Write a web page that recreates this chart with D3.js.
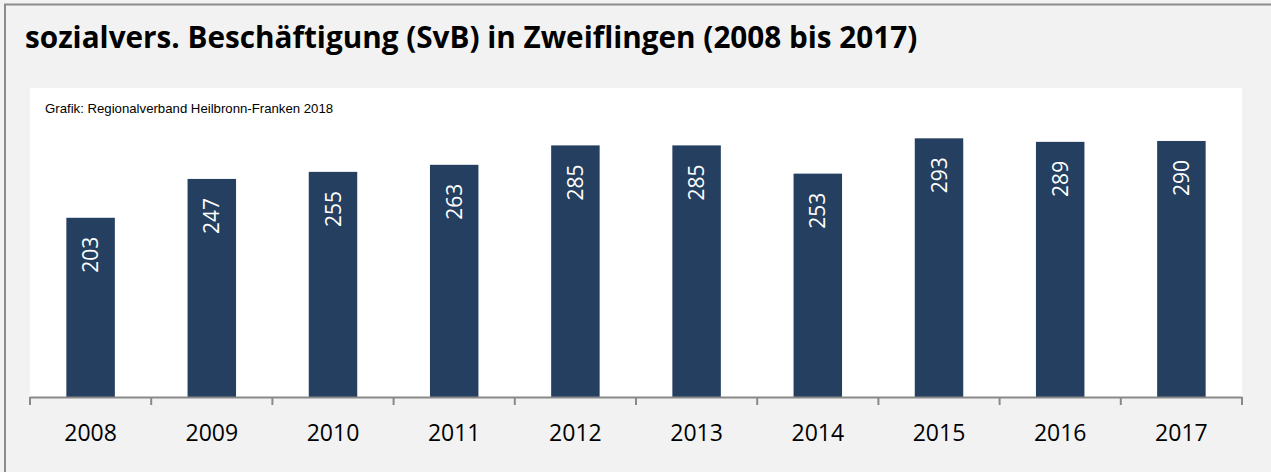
<!DOCTYPE html>
<html>
<head>
<meta charset="utf-8">
<script src="https://cdn.jsdelivr.net/npm/d3@7"></script>
<style>
  body { margin: 0; background: #f2f2f2; }
</style>
</head>
<body>
<div id="chart"></div>
<script>
// SvB Zweiflingen, 2008 to 2017
const years = ["2008", "2009", "2010", "2011", "2012", "2013", "2014", "2015", "2016", "2017"];
const employees = [203, 247, 255, 263, 285, 285, 253, 293, 289, 290];

const width = 1271, height = 472;
const plot = { left: 30, right: 1242, top: 88, bottom: 397 };

const svg = d3.select("#chart").append("svg")
  .attr("width", width)
  .attr("height", height)
  .style("display", "block");

// outer frame (only top and left edge visible)
svg.append("rect")
  .attr("x", 5).attr("y", 4.5)
  .attr("width", width + 20).attr("height", height + 20)
  .attr("fill", "#f2f2f2")
  .attr("stroke", "#8c8c8c")
  .attr("stroke-width", 2);

svg.append("text")
  .attr("x", 25).attr("y", 48)
  .attr("font-family", "'Open Sans', sans-serif")
  .attr("font-weight", "bold")
  .attr("font-size", 29.7)
  .attr("fill", "#000")
  .text("sozialvers. Beschäftigung (SvB) in Zweiflingen (2008 bis 2017)");

// white plot area
svg.append("rect")
  .attr("x", plot.left).attr("y", plot.top)
  .attr("width", plot.right - plot.left)
  .attr("height", plot.bottom - plot.top)
  .attr("fill", "#fff");

svg.append("text")
  .attr("x", 45).attr("y", 113)
  .attr("font-family", "'Liberation Sans', Arial, sans-serif")
  .attr("font-size", 13.2)
  .attr("fill", "#000")
  .text("Grafik: Regionalverband Heilbronn-Franken 2018");

const x = d3.scaleBand()
  .domain(years)
  .range([plot.left, plot.right])
  .paddingInner(0.6)
  .paddingOuter(0.3);

const y = d3.scaleLinear()
  .domain([0, 350])
  .range([plot.bottom, plot.top]);

const data = years.map((yr, i) => ({ year: yr, value: employees[i] }));

svg.append("g")
  .selectAll("rect")
  .data(data)
  .join("rect")
  .attr("x", d => x(d.year))
  .attr("y", d => y(d.value))
  .attr("width", x.bandwidth())
  .attr("height", d => y(0) - y(d.value))
  .attr("fill", "#243f60");

svg.append("g")
  .attr("font-family", "'Open Sans', sans-serif")
  .attr("font-size", 21)
  .attr("fill", "#fff")
  .attr("text-anchor", "end")
  .selectAll("text")
  .data(data)
  .join("text")
  .attr("transform", d => `translate(${x(d.year) + x.bandwidth() / 2 + 7.5},${y(d.value) + 19}) rotate(-90)`)
  .text(d => d.value);

// x axis: ticks sit between the categories, like the spreadsheet original
const edges = d3.range(years.length + 1).map(i => plot.left + i * (plot.right - plot.left) / years.length);

const axis = svg.append("g");
axis.append("line")
  .attr("x1", plot.left).attr("x2", plot.right)
  .attr("y1", plot.bottom + 0.5).attr("y2", plot.bottom + 0.5)
  .attr("stroke", "#898989")
  .attr("stroke-width", 2);
axis.selectAll(".tick")
  .data(edges)
  .join("line")
  .attr("x1", d => d).attr("x2", d => d)
  .attr("y1", plot.bottom).attr("y2", plot.bottom + 8)
  .attr("stroke", "#898989")
  .attr("stroke-width", 2);

axis.selectAll("text")
  .data(years)
  .join("text")
  .attr("x", d => x(d) + x.bandwidth() / 2)
  .attr("y", 441)
  .attr("text-anchor", "middle")
  .attr("font-family", "'Open Sans', sans-serif")
  .attr("font-size", 23)
  .attr("fill", "#000")
  .text(d => d);
</script>
</body>
</html>
